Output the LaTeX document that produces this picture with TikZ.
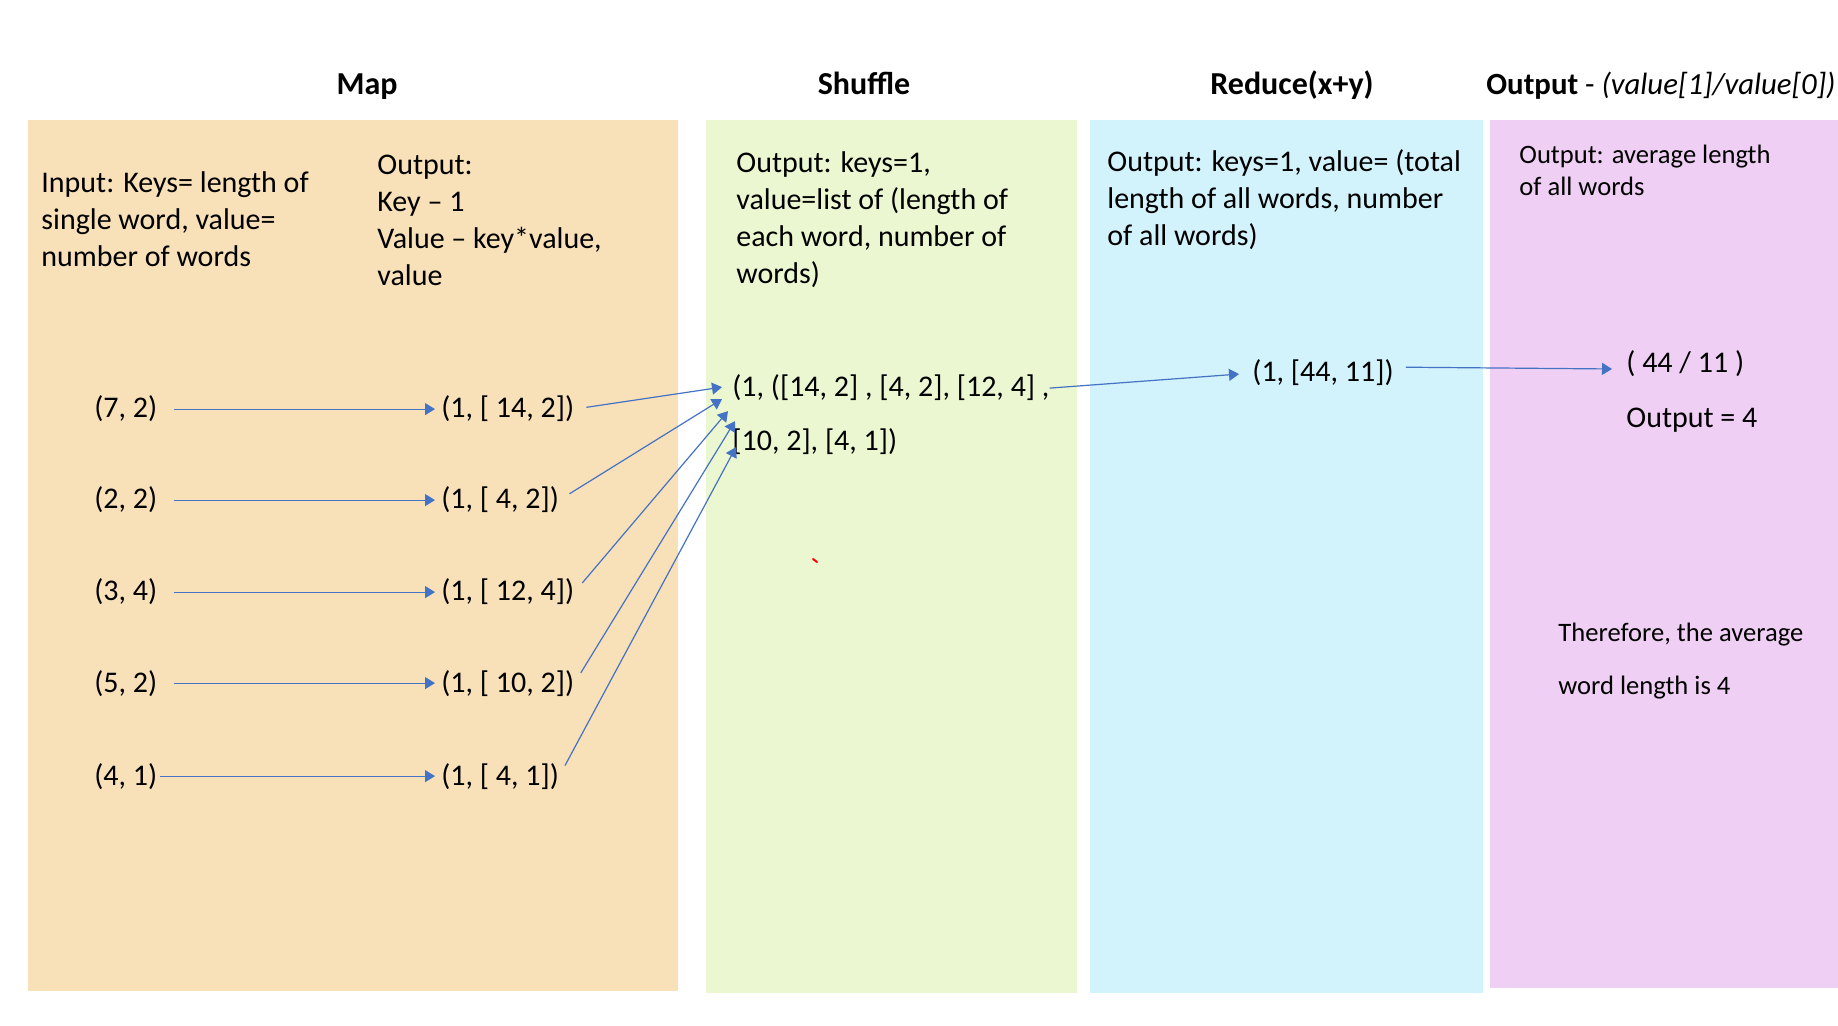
\documentclass[tikz,border=0pt]{standalone}
\usepackage{fontspec}
\setmainfont{Carlito}
\usetikzlibrary{arrows.meta,calc}
\definecolor{mapbg}{HTML}{F8E0B9}
\definecolor{shufbg}{HTML}{EBF7D0}
\definecolor{redbg}{HTML}{D2F2FC}
\definecolor{outbg}{HTML}{F0CFF4}
\definecolor{arrowblue}{HTML}{4472C4}
\begin{document}
\begin{tikzpicture}[x=0.5pt,y=-0.5pt,
  title/.style={font=\fontsize{16}{19}\selectfont\bfseries, anchor=base, inner sep=0pt},
  body/.style={font=\fontsize{15}{18.6}\selectfont, align=left, anchor=base west, inner sep=0pt},
  data/.style={font=\fontsize{15}{18}\selectfont, anchor=base west, inner sep=0pt},
  small/.style={font=\fontsize{13.3}{16}\selectfont, align=left, anchor=base west, inner sep=0pt},
  arr/.style={draw=arrowblue, line width=0.6pt, -{Triangle[length=5pt,width=6pt]}}
]
\useasboundingbox (0,0) rectangle (1838,1026);
% panels
\fill[mapbg] (28,120) rectangle (678,991);
\fill[shufbg] (706,120) rectangle (1077,993);
\fill[redbg] (1090,120) rectangle (1483,993);
\fill[outbg] (1490,120) rectangle (1838,988);
% titles
\node[title] (tmap) at (367,95) {Map};
\node[title] (tshuf) at (864,95) {Shuffle};
\node[title] (tred) at (1292,95) {Reduce(x+y)};
\node[title, anchor=base west, font=\fontsize{15.4}{18}\selectfont] (tout) at (1486,95) {\textbf{Output} - \textit{(value[1]/value[0])}};
% descriptions (base anchor = baseline of last line)
\node[body] (mapin) at (41,267) {Input: Keys= length of\\single word, value=\\number of words};
\node[body] (mapout) at (377,286) {Output:\\Key – 1\\Value – key*value,\\value};
\node[body] (shuftxt) at (736,284) {Output: keys=1,\\value=list of (length of\\each word, number of\\words)};
\node[body] (redtxt) at (1107,246) {Output: keys=1, value= (total\\length of all words, number\\of all words)};
\node[small] (outtxt) at (1519,196) {Output: average length\\of all words};
\node[small, font=\fontsize{13.3}{27}\selectfont] (therefore) at (1558,695) {Therefore, the average\\word length is 4};
% map inputs
\node[data] (i1) at (94,418) {(7, 2)};
\node[data] (i2) at (94,509) {(2, 2)};
\node[data] (i3) at (94,601) {(3, 4)};
\node[data] (i4) at (94,692) {(5, 2)};
\node[data] (i5) at (94,785) {(4, 1)};
% map outputs
\node[data] (o1) at (441,418) {(1, [ 14, 2])};
\node[data] (o2) at (441,509) {(1, [ 4, 2])};
\node[data] (o3) at (441,601) {(1, [ 12, 4])};
\node[data] (o4) at (441,692) {(1, [ 10, 2])};
\node[data] (o5) at (441,785) {(1, [ 4, 1])};
% shuffle
\node[data] (s1) at (732,397) {(1, ([14, 2] , [4, 2], [12, 4] ,};
\node[data] (s2) at (732,451) {[10, 2], [4, 1])};
% reduce and output
\node[data] (r1) at (1252,382) {(1, [44, 11])};
\node[data] (avg) at (1626,373) {( 44 / 11 )};
\node[data] (res) at (1626,428) {Output = 4};
% arrows map
\draw[arr, shorten <=8pt, shorten >=3pt] (i1.east) -- (o1.west);
\draw[arr, shorten <=8pt, shorten >=3pt] (i2.east) -- (o2.west);
\draw[arr, shorten <=8pt, shorten >=3pt] (i3.east) -- (o3.west);
\draw[arr, shorten <=8pt, shorten >=3pt] (i4.east) -- (o4.west);
\draw[arr, shorten <=1pt, shorten >=3pt] (i5.east) -- (o5.west);
% arrows to shuffle
\draw[arr, shorten <=6pt] (o1.east) -- ($(s1.west)+(-10,-1)$);
\draw[arr, shorten <=6pt] (o2.east) -- ($(s1.west)+(-10,11)$);
\draw[arr, shorten <=6pt] (o3.east) -- ($(s1.west)+(-4,23)$);
\draw[arr, shorten <=6pt] (o4.east) -- ($(s2.west)+(3,-21)$);
\draw[arr, shorten <=6pt] (o5.east) -- ($(s2.west)+(4,5)$);
% shuffle -> reduce -> output
\draw[arr, shorten >=6.5pt] (s1.east) -- (r1.west);
\draw[arr, shorten <=6pt, shorten >=7pt] ($(r1.east)+(0,-6)$) -- ($(avg.west)+(0,5)$);
% stray mark
\draw[red, line width=1pt, line cap=round] (813,559) -- (817,562);
\end{tikzpicture}
\end{document}
